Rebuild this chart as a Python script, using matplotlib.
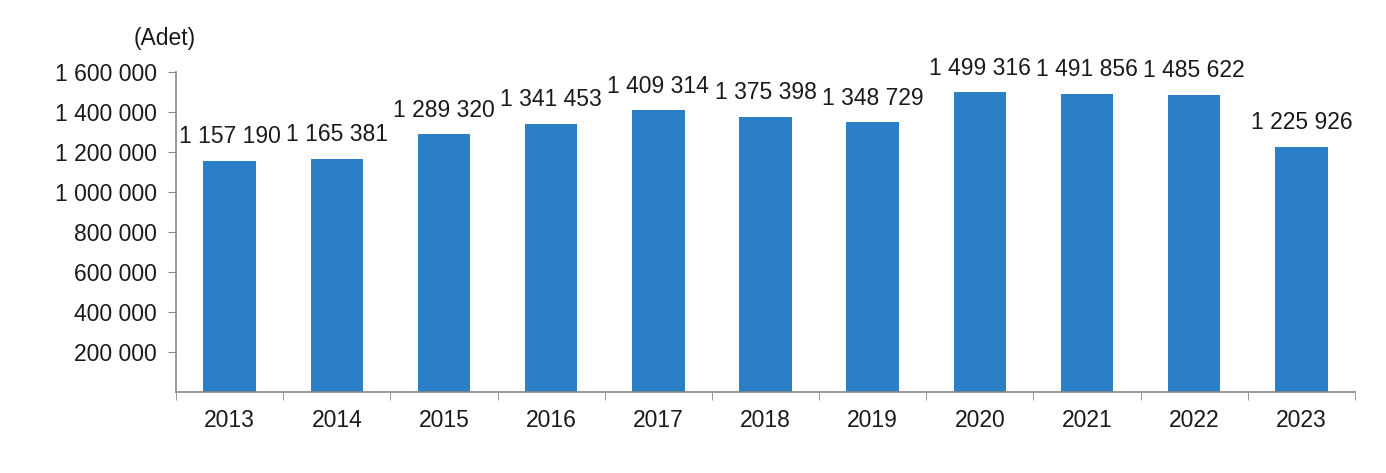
import matplotlib
matplotlib.use("Agg")
import matplotlib.pyplot as plt
import numpy as np

years = ["2013", "2014", "2015", "2016", "2017", "2018", "2019", "2020", "2021", "2022", "2023"]
values = [1157190, 1165381, 1289320, 1341453, 1409314, 1375398, 1348729, 1499316, 1491856, 1485622, 1225926]
yticks = [200000, 400000, 600000, 800000, 1000000, 1200000, 1400000, 1600000]

plt.rcParams['font.family'] = ['Liberation Sans', 'DejaVu Sans']

def fmt(v):
    return f"{v:,}".replace(",", " ")

FS = 16.5
TC = "#1a1a1a"

fig = plt.figure(figsize=(13.86, 4.73), dpi=100)
W, H = 1386, 473
ax = fig.add_axes([176 / W, 1 - 392 / H, (1355 - 176) / W, (392 - 72) / H])

x = np.arange(len(years))
ax.bar(x, values, width=0.49, color="#2A7FC6", zorder=2)
for xi, v in zip(x, values):
    ax.annotate(fmt(v), (xi, v), xytext=(0, 9), textcoords="offset points",
                ha="center", va="bottom", fontsize=FS, color=TC)

ax.set_xlim(-0.5, len(years) - 0.5)
ax.set_ylim(0, 1600000)
ax.set_yticks(yticks)
ax.set_yticklabels([fmt(t) for t in yticks], fontsize=FS, color=TC)
ax.set_xticks(x)
ax.set_xticklabels(years, fontsize=FS, color=TC)
ax.tick_params(axis="x", length=0, pad=12)
ax.set_xticks(np.arange(-0.5, len(years), 1), minor=True)
ax.tick_params(axis="x", which="minor", length=6, color="#888888", direction="out")
ax.tick_params(axis="y", length=6, color="#888888", direction="out", pad=8)

for s in ["top", "right"]:
    ax.spines[s].set_visible(False)
for s in ["left", "bottom"]:
    ax.spines[s].set_color("#888888")
    ax.spines[s].set_linewidth(1.2)

fig.text(165 / W, 1 - 39 / H, "(Adet)", ha="center", va="center", fontsize=FS, color=TC)

fig.savefig("out.png", dpi=100)
